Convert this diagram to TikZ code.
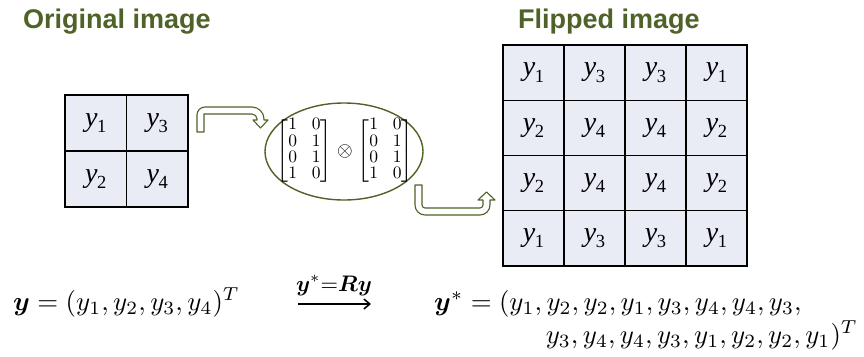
\documentclass[tikz,border=0pt]{standalone}
\usepackage{amsmath}
\usepackage{bm}
\usepackage{graphicx}
\usepackage{fontspec}
\usetikzlibrary{shapes.geometric,arrows.meta}
\newfontfamily\titlef{Liberation Sans}
\newfontfamily\timesf{Liberation Serif}
\definecolor{olivedk}{RGB}{79,98,40}
\definecolor{cellfill}{RGB}{233,235,245}
\newcommand\yv[1]{{\timesf\itshape y}\kern-0.3pt\raisebox{-0.22em}{\timesf\fontsize{18.5}{18.5}\selectfont #1}}
\newcommand\bigmath[1]{\scalebox{2.68}{$#1$}}
\tikzset{
  titletext/.style={font=\titlef\bfseries\fontsize{27}{30}\selectfont, text=olivedk, anchor=base west, inner sep=0},
  gcell/.style={draw=black, line width=1.3, fill=cellfill, inner sep=0, font=\timesf\fontsize{28}{30}\selectfont},
  smallcell/.style={gcell, minimum width=61.5, minimum height=56},
  bigcell/.style={gcell, minimum width=61, minimum height=55.25},
  barrow/.style={draw=olivedk, line width=1.1, fill=white, line join=round},
  formula/.style={inner sep=0, font=\normalsize},
}
\begin{document}
\begin{tikzpicture}[x=1pt,y=-1pt]
\useasboundingbox[fill=white] (0,0) rectangle (864,356);
% titles
\node[titletext] (t1) at (23,28) {Original image};
\node[titletext] (t2) at (518,28) {Flipped image};
% small grid
\node[smallcell] (s11) at (95.75,123) {\yv{1}};
\node[smallcell] (s12) at (157.25,123) {\yv{3}};
\node[smallcell] (s21) at (95.75,179) {\yv{2}};
\node[smallcell] (s22) at (157.25,179) {\yv{4}};
% big grid
\foreach \r/\yy/\a/\b in {1/72.6/1/3, 2/127.9/2/4, 3/183.1/2/4, 4/238.4/1/3}{
  \node[bigcell] (b\r1) at (533.5,\yy) {\yv{\a}};
  \node[bigcell] (b\r2) at (594.5,\yy) {\yv{\b}};
  \node[bigcell] (b\r3) at (655.5,\yy) {\yv{\b}};
  \node[bigcell] (b\r4) at (716.5,\yy) {\yv{\a}};
}
% ellipse with kronecker product
\node[draw=olivedk, line width=1.4, ellipse, minimum width=158, minimum height=97, inner sep=0] (ell) at (344,151.5) {};
\node[inner sep=0] (mat) at (345,151) {\scalebox{1.75}{\fontsize{10}{9.3}\selectfont\arraycolsep=4.2pt
  $\begin{bmatrix}1&0\\0&1\\0&1\\1&0\end{bmatrix}\mkern2mu\raisebox{-0.05em}{\scalebox{1.15}{$\otimes$}}\mkern2mu\begin{bmatrix}1&0\\0&1\\0&1\\1&0\end{bmatrix}$}};
% block arrows
\draw[barrow] (204,132) -- (197,132) -- (197,115) arc[start angle=180, end angle=270, radius=8]
  -- (252,107) arc[start angle=270, end angle=360, radius=12] -- (264,120) -- (268,120)
  -- (260.5,128) -- (253,120) -- (257,120) -- (257,119) arc[start angle=0, end angle=-90, radius=5]
  -- (204,114) -- cycle;
\draw[barrow] (415,185) -- (415,205) arc[start angle=180, end angle=90, radius=10]
  -- (480,215) arc[start angle=90, end angle=0, radius=10] -- (490,200) -- (495,200)
  -- (486.5,192) -- (478,200) -- (483,200) -- (483,205) arc[start angle=0, end angle=90, radius=3]
  -- (425,208) arc[start angle=90, end angle=180, radius=3] -- (422,185) -- cycle;
% formulas
\node[formula, anchor=base west] (f1) at (13,310) {\bigmath{\boldsymbol{y} = (y_1, y_2, y_3, y_4)^T}};
\node[formula, anchor=base] (lab) at (334,291) {\scalebox{2.25}{$\boldsymbol{y}^{*}{=}\boldsymbol{Ry}$}};
\coordinate (a1) at (298,304);
\coordinate (a2) at (371,304);
\draw[line width=1.5, -{Straight Barb[length=6pt, width=10pt]}] (a1) -- (a2);
\node[formula, anchor=base west] (f2) at (434,310) {\bigmath{\boldsymbol{y}^* = (y_1, y_2, y_2, y_1, y_3, y_4, y_4, y_3,}};
\node[formula, anchor=base east] (f3) at (858,343) {\bigmath{y_3, y_4, y_4, y_3, y_1, y_2, y_2, y_1)^T}};
\end{tikzpicture}
\end{document}
